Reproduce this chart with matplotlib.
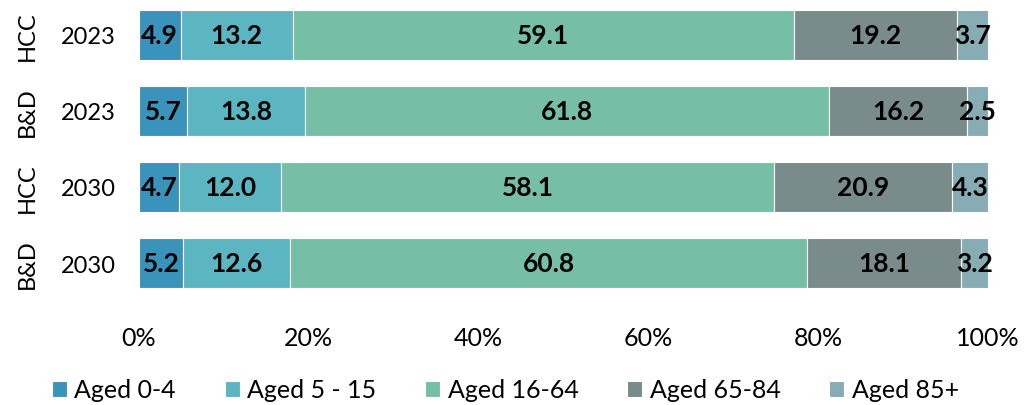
import matplotlib
matplotlib.use("Agg")
import matplotlib.pyplot as plt
import numpy as np

groups = ["HCC", "B&D", "HCC", "B&D"]
years = ["2023", "2023", "2030", "2030"]
series = ["Aged 0-4", "Aged 5 - 15", "Aged 16-64", "Aged 65-84", "Aged 85+"]
aged_0_4 = [4.9, 5.7, 4.7, 5.2]
aged_5_15 = [13.2, 13.8, 12.0, 12.6]
aged_16_64 = [59.1, 61.8, 58.1, 60.8]
aged_65_84 = [19.2, 16.2, 20.9, 18.1]
aged_85p = [3.7, 2.5, 4.3, 3.2]
colors = ["#3A93BB", "#5BB6C1", "#76BFA6", "#7A8B8C", "#87ACB4"]

plt.rcParams['font.family'] = ['Lato', 'DejaVu Sans']

data = np.array([aged_0_4, aged_5_15, aged_16_64, aged_65_84, aged_85p])
totals = data.sum(axis=0)
shares = data / totals * 100

fig = plt.figure(figsize=(10.25, 4.06), dpi=100)
ax = fig.add_axes([0.1356, 0.256, 0.8284, 0.75])
y = np.arange(len(years))
left = np.zeros(len(years))
for i, name in enumerate(series):
    ax.barh(y, shares[i], left=left, height=0.66, color=colors[i],
            edgecolor="white", linewidth=0.8, label=name)
    for j in range(len(years)):
        ax.text(left[j] + shares[i][j] / 2, y[j], f"{data[i][j]:.1f}",
                ha="center", va="center", fontsize=19, fontweight="bold", color="black")
    left += shares[i]

ax.set_xlim(0, 100)
ax.set_ylim(3.5, -0.5)
ax.set_yticks(y)
ax.set_yticklabels(years, fontsize=17)
ax.set_xticks(np.arange(0, 101, 20))
ax.set_xticklabels([f"{v}%" for v in range(0, 101, 20)], fontsize=18)
ax.tick_params(axis="both", length=0)
ax.tick_params(axis="x", pad=18)
ax.tick_params(axis="y", pad=17)
for s in ax.spines.values():
    s.set_visible(False)

for j, g in enumerate(groups):
    ax.text(-0.132, y[j], g, transform=ax.get_yaxis_transform(), rotation=90,
            ha="center", va="center", fontsize=17)

leg = fig.legend(loc="center", bbox_to_anchor=(0.493, 0.037), ncol=5, frameon=False,
                 fontsize=18, handlelength=0.6, handleheight=0.6, handletextpad=0.3,
                 columnspacing=1.95)
fig.savefig("out.png", dpi=100)
